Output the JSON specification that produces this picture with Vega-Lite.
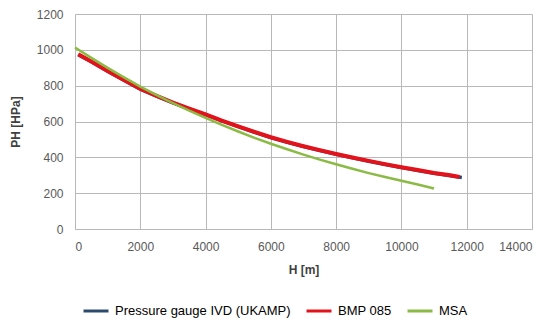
{
  "$schema": "https://vega.github.io/schema/vega-lite/v6.json",
  "autosize": "none",
  "width": 457,
  "height": 215,
  "padding": {"left": 75, "top": 14, "right": 25, "bottom": 92},
  "background": "white",
  "config": {
    "view": {"stroke": null},
    "font": "Liberation Sans",
    "axis": {"gridColor": "#b8b8b8", "gridWidth": 1, "domainColor": "#b8b8b8", "ticks": false, "labelColor": "#595959", "labelFontSize": 12, "titleFontSize": 12, "titleFontWeight": "bold", "titleColor": "#404040"}
  },
  "data": {"values": [
    {"series": "Pressure gauge IVD (UKAMP)", "H": 100, "P": 973},
    {"series": "Pressure gauge IVD (UKAMP)", "H": 500, "P": 933},
    {"series": "Pressure gauge IVD (UKAMP)", "H": 1000, "P": 880},
    {"series": "Pressure gauge IVD (UKAMP)", "H": 1500, "P": 830},
    {"series": "Pressure gauge IVD (UKAMP)", "H": 2000, "P": 781},
    {"series": "Pressure gauge IVD (UKAMP)", "H": 2500, "P": 741},
    {"series": "Pressure gauge IVD (UKAMP)", "H": 3000, "P": 704},
    {"series": "Pressure gauge IVD (UKAMP)", "H": 3500, "P": 670},
    {"series": "Pressure gauge IVD (UKAMP)", "H": 4000, "P": 638},
    {"series": "Pressure gauge IVD (UKAMP)", "H": 4500, "P": 603},
    {"series": "Pressure gauge IVD (UKAMP)", "H": 5000, "P": 571},
    {"series": "Pressure gauge IVD (UKAMP)", "H": 5500, "P": 540},
    {"series": "Pressure gauge IVD (UKAMP)", "H": 6000, "P": 510},
    {"series": "Pressure gauge IVD (UKAMP)", "H": 6500, "P": 484},
    {"series": "Pressure gauge IVD (UKAMP)", "H": 7000, "P": 460},
    {"series": "Pressure gauge IVD (UKAMP)", "H": 7500, "P": 438},
    {"series": "Pressure gauge IVD (UKAMP)", "H": 8000, "P": 417},
    {"series": "Pressure gauge IVD (UKAMP)", "H": 8500, "P": 397},
    {"series": "Pressure gauge IVD (UKAMP)", "H": 9000, "P": 378},
    {"series": "Pressure gauge IVD (UKAMP)", "H": 9500, "P": 360},
    {"series": "Pressure gauge IVD (UKAMP)", "H": 10000, "P": 343},
    {"series": "Pressure gauge IVD (UKAMP)", "H": 10500, "P": 327},
    {"series": "Pressure gauge IVD (UKAMP)", "H": 11000, "P": 311},
    {"series": "Pressure gauge IVD (UKAMP)", "H": 11500, "P": 297},
    {"series": "Pressure gauge IVD (UKAMP)", "H": 11850, "P": 287},
    {"series": "BMP 085", "H": 100, "P": 975},
    {"series": "BMP 085", "H": 500, "P": 935},
    {"series": "BMP 085", "H": 1000, "P": 882},
    {"series": "BMP 085", "H": 1500, "P": 832},
    {"series": "BMP 085", "H": 2000, "P": 783},
    {"series": "BMP 085", "H": 2500, "P": 743},
    {"series": "BMP 085", "H": 3000, "P": 706},
    {"series": "BMP 085", "H": 3500, "P": 672},
    {"series": "BMP 085", "H": 4000, "P": 640},
    {"series": "BMP 085", "H": 4500, "P": 605},
    {"series": "BMP 085", "H": 5000, "P": 573},
    {"series": "BMP 085", "H": 5500, "P": 542},
    {"series": "BMP 085", "H": 6000, "P": 512},
    {"series": "BMP 085", "H": 6500, "P": 486},
    {"series": "BMP 085", "H": 7000, "P": 462},
    {"series": "BMP 085", "H": 7500, "P": 440},
    {"series": "BMP 085", "H": 8000, "P": 419},
    {"series": "BMP 085", "H": 8500, "P": 399},
    {"series": "BMP 085", "H": 9000, "P": 380},
    {"series": "BMP 085", "H": 9500, "P": 362},
    {"series": "BMP 085", "H": 10000, "P": 345},
    {"series": "BMP 085", "H": 10500, "P": 329},
    {"series": "BMP 085", "H": 11000, "P": 313},
    {"series": "BMP 085", "H": 11500, "P": 300},
    {"series": "BMP 085", "H": 11780, "P": 290},
    {"series": "MSA", "H": 0, "P": 1013},
    {"series": "MSA", "H": 500, "P": 955},
    {"series": "MSA", "H": 1000, "P": 899},
    {"series": "MSA", "H": 1500, "P": 846},
    {"series": "MSA", "H": 2000, "P": 795},
    {"series": "MSA", "H": 2500, "P": 747},
    {"series": "MSA", "H": 3000, "P": 703},
    {"series": "MSA", "H": 3500, "P": 661},
    {"series": "MSA", "H": 4000, "P": 620},
    {"series": "MSA", "H": 4500, "P": 581},
    {"series": "MSA", "H": 5000, "P": 544},
    {"series": "MSA", "H": 5500, "P": 509},
    {"series": "MSA", "H": 6000, "P": 476},
    {"series": "MSA", "H": 6500, "P": 445},
    {"series": "MSA", "H": 7000, "P": 415},
    {"series": "MSA", "H": 7500, "P": 387},
    {"series": "MSA", "H": 8000, "P": 361},
    {"series": "MSA", "H": 8500, "P": 336},
    {"series": "MSA", "H": 9000, "P": 312},
    {"series": "MSA", "H": 9500, "P": 290},
    {"series": "MSA", "H": 10000, "P": 269},
    {"series": "MSA", "H": 10500, "P": 248},
    {"series": "MSA", "H": 11000, "P": 226}
  ]},
  "encoding": {
    "x": {"field": "H", "type": "quantitative", "scale": {"domain": [0, 14000], "nice": false}, "axis": {"values": [0, 2000, 4000, 6000, 8000, 10000, 12000, 14000], "title": "H [m]", "labelPadding": 12, "titlePadding": 12, "format": "d"}},
    "y": {"field": "P", "type": "quantitative", "scale": {"domain": [0, 1200], "nice": false}, "axis": {"values": [0, 200, 400, 600, 800, 1000, 1200], "title": "PH [HPa]", "labelPadding": 12, "titlePadding": 14, "format": "d"}},
    "color": {"field": "series", "type": "nominal", "scale": {"domain": ["Pressure gauge IVD (UKAMP)", "BMP 085", "MSA"], "range": ["#2c4a6e", "#e3121b", "#8cbb45"]}, "legend": {"title": null, "orient": "none", "direction": "horizontal", "legendX": 7, "legendY": 283, "symbolType": "stroke", "symbolSize": 625, "symbolStrokeWidth": 3, "labelFontSize": 13, "labelColor": "#000000", "labelOffset": 5, "labelLimit": 400, "columnPadding": 9}}
  },
  "layer": [
    {"transform": [{"filter": "datum.series === 'Pressure gauge IVD (UKAMP)'"}], "mark": {"type": "line", "strokeWidth": 3.5}},
    {"transform": [{"filter": "datum.series === 'BMP 085'"}], "mark": {"type": "line", "strokeWidth": 4}},
    {"transform": [{"filter": "datum.series === 'MSA'"}], "mark": {"type": "line", "strokeWidth": 2.5}}
  ]
}
